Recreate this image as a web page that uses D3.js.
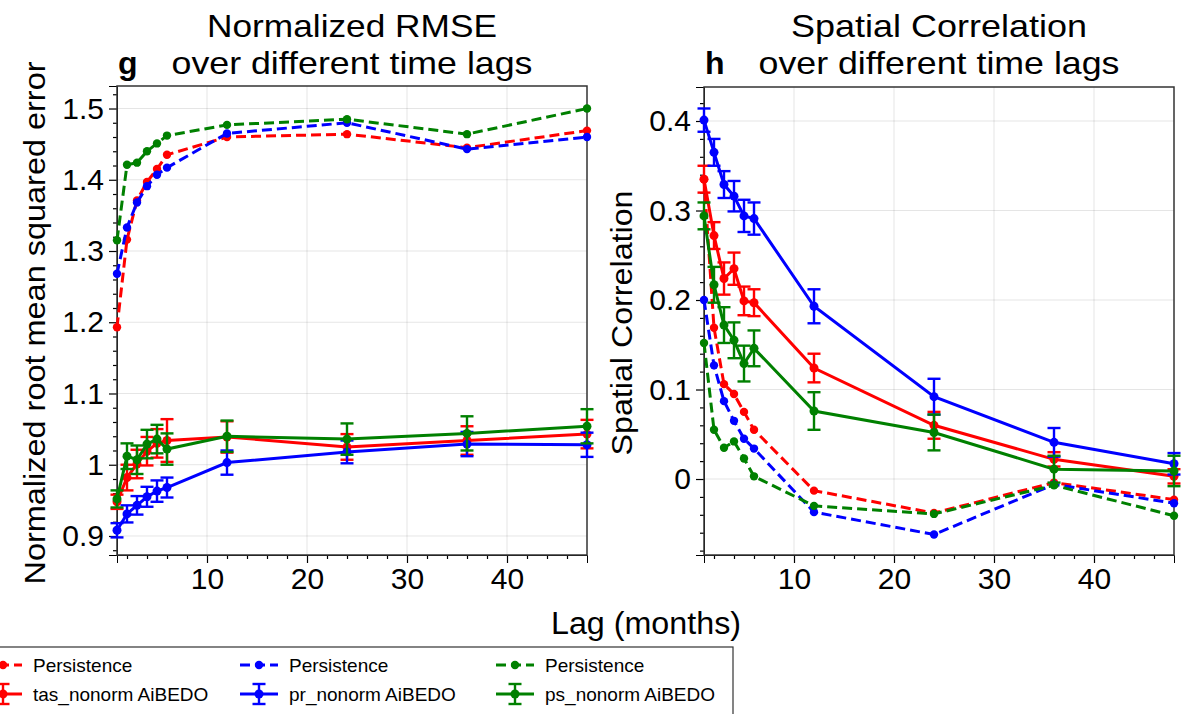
<!DOCTYPE html>
<html>
<head>
<meta charset="utf-8">
<script src="https://cdn.jsdelivr.net/npm/d3@7"></script>
<style>
  body { margin: 0; background: #fff; }
  svg { font-family: "Liberation Sans", Arial, sans-serif; }
</style>
</head>
<body>
<div id="chart"></div>
<script>
// lags (months)
const lags = [1, 2, 3, 4, 5, 6, 12, 24, 36, 48];

// normalized RMSE - persistence
const rmsePersTas = [1.193, 1.316, 1.371, 1.397, 1.415, 1.435, 1.460, 1.464, 1.445, 1.469];
const rmsePersPr  = [1.268, 1.333, 1.368, 1.391, 1.407, 1.417, 1.465, 1.480, 1.443, 1.460];
const rmsePersPs  = [1.315, 1.421, 1.424, 1.440, 1.451, 1.462, 1.477, 1.485, 1.464, 1.500];
// normalized RMSE - AiBEDO (mean, error)
const rmseAiTas = [0.948, 0.982, 1.001, 1.019, 1.030, 1.034, 1.039, 1.025, 1.034, 1.043];
const rmseAiPr  = [0.908, 0.931, 0.943, 0.955, 0.963, 0.968, 1.003, 1.018, 1.029, 1.028];
const rmseAiPs  = [0.952, 1.012, 1.007, 1.029, 1.036, 1.022, 1.040, 1.036, 1.044, 1.054];
const rmseErrTas = [0.010, 0.018, 0.020, 0.020, 0.020, 0.030, 0.022, 0.018, 0.020, 0.020];
const rmseErrPr  = [0.010, 0.012, 0.013, 0.014, 0.015, 0.014, 0.017, 0.016, 0.017, 0.017];
const rmseErrPs  = [0.012, 0.018, 0.020, 0.020, 0.020, 0.022, 0.022, 0.022, 0.024, 0.024];

// spatial correlation - persistence
const corrPersTas = [0.335, 0.169, 0.106, 0.095, 0.075, 0.055, -0.013, -0.038, -0.004, -0.023];
const corrPersPr  = [0.200, 0.127, 0.087, 0.065, 0.045, 0.034, -0.037, -0.062, -0.006, -0.027];
const corrPersPs  = [0.152, 0.055, 0.035, 0.042, 0.023, 0.003, -0.030, -0.039, -0.007, -0.041];
// spatial correlation - AiBEDO
const corrAiTas = [0.335, 0.272, 0.224, 0.235, 0.199, 0.197, 0.124, 0.060, 0.022, 0.003];
const corrAiPr  = [0.401, 0.365, 0.329, 0.316, 0.294, 0.291, 0.193, 0.092, 0.041, 0.017];
const corrAiPs  = [0.294, 0.217, 0.172, 0.155, 0.129, 0.146, 0.076, 0.052, 0.011, 0.009];
const corrErrTas = [0.015, 0.015, 0.018, 0.018, 0.016, 0.015, 0.016, 0.015, 0.008, 0.008];
const corrErrPr  = [0.013, 0.015, 0.015, 0.017, 0.018, 0.018, 0.019, 0.020, 0.016, 0.012];
const corrErrPs  = [0.015, 0.020, 0.020, 0.020, 0.020, 0.020, 0.021, 0.020, 0.015, 0.017];

const colors = {tas: "#ff0000", pr: "#0000ff", ps: "#008000"};

const width = 1186, height = 714;
const svg = d3.select("#chart").append("svg")
    .attr("width", width)
    .attr("height", height);

// texte étiré à une largeur donnée
function label(sel, size, len) {
    sel.attr("font-size", size);
    if (len) sel.attr("textLength", len).attr("lengthAdjust", "spacingAndGlyphs");
    return sel;
}

function drawPanel(opts) {
    const x = d3.scaleLinear().domain([1, 48]).range([opts.left, opts.right]);
    const y = d3.scaleLinear().domain(opts.ydomain).range([opts.bottom, opts.top]);
    const g = svg.append("g");

    // grid
    g.append("g").selectAll("line").data([10, 20, 30, 40]).join("line")
        .attr("x1", d => x(d)).attr("x2", d => x(d))
        .attr("y1", opts.top).attr("y2", opts.bottom)
        .attr("stroke", "#000").attr("stroke-opacity", 0.1).attr("stroke-width", 1);
    g.append("g").selectAll("line").data(opts.yticks).join("line")
        .attr("x1", opts.left).attr("x2", opts.right)
        .attr("y1", d => y(d)).attr("y2", d => y(d))
        .attr("stroke", "#000").attr("stroke-opacity", 0.1).attr("stroke-width", 1);

    // axes
    const xAxis = g.append("g")
        .attr("transform", `translate(0,${opts.bottom})`)
        .call(d3.axisBottom(x).tickValues([10, 20, 30, 40]).tickSize(8).tickPadding(5));
    g.append("g")
        .attr("transform", `translate(0,${opts.bottom})`)
        .call(d3.axisBottom(x).tickValues(d3.range(2, 48, 2).filter(v => v % 10 !== 0)).tickSize(4).tickFormat(""))
        .call(s => s.select(".domain").remove());
    const yAxis = g.append("g")
        .attr("transform", `translate(${opts.left},0)`)
        .call(d3.axisLeft(y).tickValues(opts.yticks).tickSize(8).tickPadding(5).tickFormat(opts.yfmt));
    g.append("g")
        .attr("transform", `translate(${opts.left},0)`)
        .call(d3.axisLeft(y).tickValues(opts.yminor).tickSize(4).tickFormat(""))
        .call(s => s.select(".domain").remove());
    [xAxis, yAxis].forEach(a => {
        a.selectAll("text").attr("font-size", 30).attr("fill", "#000")
            .attr("font-family", "Liberation Sans, Arial, sans-serif");
    });
    g.selectAll(".tick line").attr("stroke", "#000").attr("stroke-width", 1.2);

    // frame
    g.append("rect")
        .attr("x", opts.left).attr("y", opts.top)
        .attr("width", opts.right - opts.left).attr("height", opts.bottom - opts.top)
        .attr("fill", "none").attr("stroke", "#333").attr("stroke-width", 1.5);

    const line = d3.line().x((d, i) => x(lags[i])).y(d => y(d));
    const plot = g.append("g");

    // persistence (dashed)
    opts.pers.forEach(s => {
        plot.append("path").datum(s.values)
            .attr("d", line).attr("fill", "none")
            .attr("stroke", s.color).attr("stroke-width", 3)
            .attr("stroke-dasharray", "10,5");
        plot.append("g").selectAll("circle").data(s.values).join("circle")
            .attr("cx", (d, i) => x(lags[i])).attr("cy", d => y(d))
            .attr("r", 4.2).attr("fill", s.color);
    });
    // AiBEDO (solid with error bars)
    opts.ai.forEach(s => {
        const eb = plot.append("g").attr("stroke", s.color).attr("stroke-width", 2.4);
        s.values.forEach((v, i) => {
            const cx = x(lags[i]);
            const y0 = y(v - s.err[i]), y1 = y(v + s.err[i]);
            eb.append("line").attr("x1", cx).attr("x2", cx).attr("y1", y0).attr("y2", y1);
            eb.append("line").attr("x1", cx - 6.5).attr("x2", cx + 6.5).attr("y1", y0).attr("y2", y0);
            eb.append("line").attr("x1", cx - 6.5).attr("x2", cx + 6.5).attr("y1", y1).attr("y2", y1);
        });
        plot.append("path").datum(s.values)
            .attr("d", line).attr("fill", "none")
            .attr("stroke", s.color).attr("stroke-width", 3);
        plot.append("g").selectAll("circle").data(s.values).join("circle")
            .attr("cx", (d, i) => x(lags[i])).attr("cy", d => y(d))
            .attr("r", 4.5).attr("fill", s.color);
    });

    // titles
    const cx = (opts.left + opts.right) / 2;
    label(svg.append("text").attr("x", cx).attr("y", 37).attr("text-anchor", "middle"), 32, opts.t1len)
        .text(opts.title1);
    label(svg.append("text").attr("x", cx).attr("y", 74).attr("text-anchor", "middle"), 32, 361)
        .text(opts.title2);
    svg.append("text").attr("x", opts.left + 1).attr("y", 74)
        .attr("font-size", 32).attr("font-weight", "bold").text(opts.letter);
    label(svg.append("text")
        .attr("transform", `translate(${opts.ylabelX},323) rotate(-90)`)
        .attr("text-anchor", "middle"), 30, opts.ylen).text(opts.ylabel);
}

drawPanel({
    left: 117, right: 587, top: 86, bottom: 555,
    ydomain: [0.8733, 1.5316],
    yticks: [0.9, 1.0, 1.1, 1.2, 1.3, 1.4, 1.5],
    yminor: d3.range(0.88, 1.53, 0.02).filter(v => Math.abs(v * 10 - Math.round(v * 10)) > 0.01),
    yfmt: d => d === 1 ? "1" : d3.format(".1f")(d),
    pers: [
        {values: rmsePersTas, color: colors.tas},
        {values: rmsePersPr, color: colors.pr},
        {values: rmsePersPs, color: colors.ps}
    ],
    ai: [
        {values: rmseAiTas, err: rmseErrTas, color: colors.tas},
        {values: rmseAiPr, err: rmseErrPr, color: colors.pr},
        {values: rmseAiPs, err: rmseErrPs, color: colors.ps}
    ],
    title1: "Normalized RMSE", t1len: 290, title2: "over different time lags", letter: "g",
    ylabel: "Normalized root mean squared error", ylabelX: 45, ylen: 523
});

drawPanel({
    left: 704, right: 1174, top: 87, bottom: 555,
    ydomain: [-0.0849, 0.438],
    yticks: [0, 0.1, 0.2, 0.3, 0.4],
    yminor: d3.range(-0.08, 0.44, 0.02).filter(v => Math.abs(v * 10 - Math.round(v * 10)) > 0.01),
    yfmt: d => d === 0 ? "0" : d3.format(".1f")(d),
    pers: [
        {values: corrPersTas, color: colors.tas},
        {values: corrPersPr, color: colors.pr},
        {values: corrPersPs, color: colors.ps}
    ],
    ai: [
        {values: corrAiTas, err: corrErrTas, color: colors.tas},
        {values: corrAiPr, err: corrErrPr, color: colors.pr},
        {values: corrAiPs, err: corrErrPs, color: colors.ps}
    ],
    title1: "Spatial Correlation", t1len: 296, title2: "over different time lags", letter: "h",
    ylabel: "Spatial Correlation", ylabelX: 632, ylen: 265
});

// shared x label
label(svg.append("text").attr("x", 646).attr("y", 634).attr("text-anchor", "middle"), 31, 190)
    .text("Lag (months)");

// legend
const legend = svg.append("g");
legend.append("rect").attr("x", -2).attr("y", 647).attr("width", 735).attr("height", 80)
    .attr("fill", "#fff").attr("stroke", "#333").attr("stroke-width", 1.2);
const legCols = [
    {cx: 3, color: colors.tas, name: "tas_nonorm AiBEDO"},
    {cx: 259, color: colors.pr, name: "pr_nonorm AiBEDO"},
    {cx: 515, color: colors.ps, name: "ps_nonorm AiBEDO"}
];
legCols.forEach(c => {
    const r1 = 665, r2 = 694;
    legend.append("line").attr("x1", c.cx - 19).attr("x2", c.cx + 19).attr("y1", r1).attr("y2", r1)
        .attr("stroke", c.color).attr("stroke-width", 3).attr("stroke-dasharray", "10,5");
    legend.append("circle").attr("cx", c.cx).attr("cy", r1).attr("r", 4.2).attr("fill", c.color);
    legend.append("text").attr("x", c.cx + 30).attr("y", r1 + 7).attr("font-size", 19).text("Persistence");

    legend.append("line").attr("x1", c.cx - 19).attr("x2", c.cx + 19).attr("y1", r2).attr("y2", r2)
        .attr("stroke", c.color).attr("stroke-width", 3);
    legend.append("line").attr("x1", c.cx).attr("x2", c.cx).attr("y1", r2 - 10).attr("y2", r2 + 10)
        .attr("stroke", c.color).attr("stroke-width", 2.4);
    legend.append("line").attr("x1", c.cx - 6.5).attr("x2", c.cx + 6.5).attr("y1", r2 - 10).attr("y2", r2 - 10)
        .attr("stroke", c.color).attr("stroke-width", 2.4);
    legend.append("line").attr("x1", c.cx - 6.5).attr("x2", c.cx + 6.5).attr("y1", r2 + 10).attr("y2", r2 + 10)
        .attr("stroke", c.color).attr("stroke-width", 2.4);
    legend.append("circle").attr("cx", c.cx).attr("cy", r2).attr("r", 4.5).attr("fill", c.color);
    legend.append("text").attr("x", c.cx + 30).attr("y", r2 + 7).attr("font-size", 19).text(c.name);
});
</script>
</body>
</html>
